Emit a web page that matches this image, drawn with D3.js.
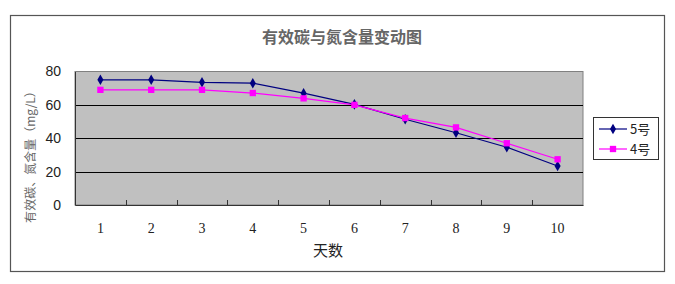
<!DOCTYPE html>
<html><head><meta charset="utf-8">
<script src="https://cdn.jsdelivr.net/npm/d3@7/dist/d3.min.js"></script>
<style>body{margin:0;background:#fff}svg{display:block}</style>
</head><body>
<svg id="c" width="675" height="284"></svg>
<script>
const days = ["1","2","3","4","5","6","7","8","9","10"];
const series5 = [75,75,73.5,73,67,60.3,51.4,43.3,34.6,23.4];
const series4 = [69,69,69,67.1,63.9,60,52.1,46.5,37,27.4];
const yTicks = [0,20,40,60,80];
const seriesNames = ["5号","4号"];
const title = "有效碳与氮含量变动图";
const yLabel = "有效碳、氮含量（mg/L）";
const xLabel = "天数";

const svg = d3.select("#c");
const L=75,R=583,T=71.5,B=205;
svg.append("rect").attr("x",10.5).attr("y",15.5).attr("width",654).attr("height",256)
  .attr("fill","#fff").attr("stroke","#555").attr("stroke-width",1.2);

const x = d3.scaleBand().domain(days).range([L,R]);
const y = d3.scaleLinear().domain([0,80]).range([B,T]);

svg.append("rect").attr("x",L).attr("y",T).attr("width",R-L).attr("height",B-T)
  .attr("fill","#c0c0c0").attr("stroke","#808080");
svg.selectAll(".grid").data(yTicks.filter(d=>d>0&&d<80)).join("line")
  .attr("x1",L).attr("x2",R).attr("y1",d=>Math.round(y(d))+0.5).attr("y2",d=>Math.round(y(d))+0.5)
  .attr("stroke","#000").attr("stroke-width",1);

const xa = svg.append("g").attr("transform",`translate(0,${B})`)
  .call(d3.axisBottom(x).tickSize(0).tickPadding(18));
xa.select(".domain").attr("stroke","#333");
xa.selectAll("text").attr("font-family","'Liberation Serif', serif").attr("font-size",14).attr("fill","#222");
svg.selectAll(".xt").data(days.slice(1)).join("line")
  .attr("x1",d=>Math.round(x(d))+0.5).attr("x2",d=>Math.round(x(d))+0.5)
  .attr("y1",B).attr("y2",B-5).attr("stroke","#333");

const ya = svg.append("g").attr("transform",`translate(${L},0)`)
  .call(d3.axisLeft(y).tickValues(yTicks).tickSize(0).tickPadding(14));
ya.select(".domain").attr("stroke","#333");
ya.selectAll("text").attr("font-family","'Liberation Sans', sans-serif").attr("font-size",14).attr("fill","#222");

const line = d3.line().x((d,i)=>x(days[i])+x.bandwidth()/2).y(d=>y(d));
const colors = ["#000080","#ff00ff"];
const data = [series5, series4];
const sym = [d3.symbolDiamond, d3.symbolSquare];
const symSize = [32, 40];
data.forEach((s,k)=>{
  svg.append("path").datum(s).attr("d",line).attr("fill","none").attr("stroke",colors[k]).attr("stroke-width",1.2);
});
data.forEach((s,k)=>{
  svg.selectAll(".m"+k).data(s).join("path")
    .attr("transform",(d,i)=>`translate(${x(days[i])+x.bandwidth()/2},${y(d)})`)
    .attr("d",d3.symbol(sym[k],symSize[k])).attr("fill",colors[k]);
});

svg.append("text").attr("x",342).attr("y",43).attr("text-anchor","middle")
  .attr("font-family","'Noto Sans CJK SC', sans-serif").attr("font-weight","bold")
  .attr("font-size",16).attr("fill","#666").text(title);
svg.append("text").attr("transform","translate(35,154) rotate(-90)").attr("text-anchor","middle")
  .attr("font-family","'Noto Sans CJK SC', sans-serif").attr("font-size",12).attr("fill","#666").text(yLabel);
svg.append("text").attr("x",328).attr("y",256).attr("text-anchor","middle")
  .attr("font-family","'Noto Sans CJK SC', sans-serif").attr("font-size",15).attr("fill","#222").text(xLabel);

const lg = svg.append("g");
lg.append("rect").attr("x",593.5).attr("y",117.5).attr("width",65).attr("height",42)
  .attr("fill","#fff").attr("stroke","#333");
seriesNames.forEach((n,k)=>{
  const yy = 129 + k*20;
  lg.append("line").attr("x1",599).attr("x2",627).attr("y1",yy).attr("y2",yy).attr("stroke",colors[k]).attr("stroke-width",1.2);
  lg.append("path").attr("transform",`translate(613,${yy})`).attr("d",d3.symbol(sym[k],symSize[k])).attr("fill",colors[k]);
  lg.append("text").attr("x",630).attr("y",yy+5).attr("font-family","'Noto Sans CJK SC', sans-serif")
    .attr("font-size",13).attr("fill","#222").text(n);
});
</script>
</body></html>
